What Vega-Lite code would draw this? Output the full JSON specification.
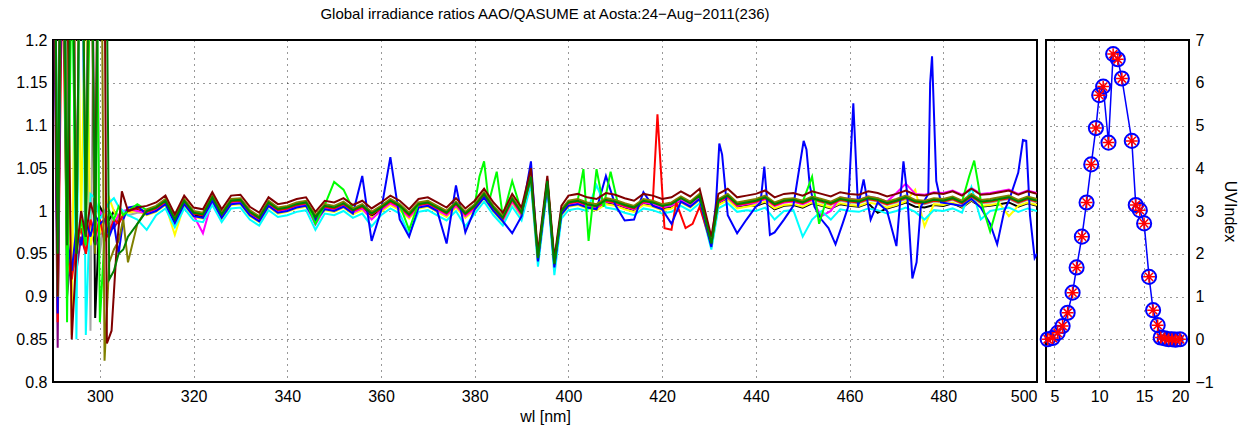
{
"$schema": "https://vega.github.io/schema/vega-lite/v6.json",
"padding": {"left": 14, "top": 6, "right": 5, "bottom": 5},
"bounds": "flush",
"spacing": 9,
"config": {
  "font": "Liberation Sans",
  "view": {"stroke": "#000", "strokeWidth": 2},
  "axis": {"grid": true, "gridColor": "#000", "gridDash": [1, 5], "gridOpacity": 0.8, "ticks": false, "domain": false, "labelFont": "Liberation Sans", "labelFontSize": 16, "labelColor": "#000", "titleFont": "Liberation Sans", "titleFontSize": 16, "titleFontWeight": "normal", "titleColor": "#000", "labelPadding": 6},
  "title": {"font": "Liberation Sans", "fontSize": 15, "fontWeight": "normal", "color": "#000"}
},
"datasets": {
"pu": [{"w":290,"r":1.4},{"w":291,"r":0.84},{"w":292,"r":1.5},{"w":293,"r":0.9},{"w":294,"r":0.96},{"w":295,"r":0.93},{"w":296,"r":0.97},{"w":297,"r":0.95},{"w":298,"r":0.98},{"w":299,"r":0.96},{"w":300,"r":0.975},{"w":301,"r":0.97},{"w":302,"r":0.985},{"w":303,"r":0.98},{"w":304,"r":0.99},{"w":305,"r":0.995},{"w":306,"r":1.0},{"w":308,"r":1.001},
{"w":310,"r":0.999},{"w":312,"r":1.003},{"w":314,"r":1.011},{"w":316,"r":0.989},{"w":318,"r":1.011},{"w":320,"r":0.997},{"w":322,"r":0.995},{"w":324,"r":1.015},{"w":326,"r":0.995},{"w":328,"r":1.011},{"w":330,"r":1.012},{"w":332,"r":0.998},{"w":334,"r":0.991},{"w":336,"r":1.009},{"w":338,"r":1.001},{"w":340,"r":1.003},{"w":342,"r":1.007},{"w":344,"r":1.009},{"w":346,"r":0.992},{"w":348,"r":1.005},{"w":350,"r":1.003},{"w":352,"r":1.008},{"w":354,"r":1.000},{"w":356,"r":1.005},{"w":358,"r":0.996},{"w":360,"r":1.003},{"w":362,"r":1.011},{"w":364,"r":1.005},{"w":366,"r":0.995},{"w":368,"r":1.007},{"w":370,"r":1.009},{"w":372,"r":1.003},{"w":374,"r":0.997},{"w":376,"r":1.008},{"w":378,"r":0.996},{"w":380,"r":1.005},{"w":382,"r":1.019},{"w":384,"r":1.003},{"w":386,"r":0.991},{"w":388,"r":1.013},{"w":390,"r":0.997},{"w":392,"r":1.039},{"w":393.5,"r":0.944},{"w":395.5,"r":1.034},{"w":397,"r":0.937},{"w":398.5,"r":0.999},{"w":400,"r":1.009},{"w":402,"r":1.011},{"w":404,"r":1.007},{"w":406,"r":1.005},{"w":408,"r":1.012},{"w":410,"r":1.010},{"w":412,"r":1.006},{"w":414,"r":1.003},{"w":416,"r":1.011},{"w":418,"r":1.009},{"w":420,"r":1.005},{"w":422,"r":1.007},{"w":424,"r":1.014},{"w":426,"r":1.008},{"w":428,"r":1.017},{"w":430.5,"r":0.961},{"w":432,"r":1.011},{"w":434,"r":1.017},{"w":436,"r":1.007},{"w":438,"r":1.009},{"w":440,"r":1.011},{"w":442,"r":1.015},{"w":444,"r":1.007},{"w":446,"r":1.011},{"w":448,"r":1.012},{"w":450,"r":1.009},{"w":452,"r":1.014},{"w":454,"r":1.011},{"w":456,"r":1.008},{"w":458,"r":1.013},{"w":460,"r":1.011},{"w":462,"r":1.010},{"w":464,"r":1.014},{"w":466,"r":1.012},{"w":468,"r":1.008},{"w":470,"r":1.011},{"w":472,"r":1.015},{"w":474,"r":1.010},{"w":476,"r":1.009},{"w":478,"r":1.012},{"w":480,"r":1.011},{"w":482,"r":1.014},{"w":484,"r":1.009},{"w":486,"r":1.017},{"w":488,"r":1.010},{"w":490,"r":1.011},{"w":492,"r":1.013},{"w":494,"r":1.015},{"w":496,"r":1.010},{"w":498,"r":1.014},{"w":500,"r":1.011}],
"gy": [{"w":290,"r":1.6},{"w":291,"r":0.96},{"w":292,"r":1.5},{"w":293,"r":0.95},{"w":294,"r":1.4},{"w":295,"r":0.96},{"w":296,"r":1.5},{"w":297,"r":1.4},{"w":298,"r":0.86},{"w":299,"r":1.5},{"w":300,"r":0.95},{"w":301,"r":0.995},{"w":302,"r":0.98},{"w":303,"r":1.0},{"w":304,"r":0.995},{"w":305,"r":1.0},{"w":306,"r":0.995},{"w":308,"r":0.998},
{"w":310,"r":0.998},{"w":312,"r":1.002},{"w":314,"r":1.010},{"w":316,"r":0.988},{"w":318,"r":1.010},{"w":320,"r":0.996},{"w":322,"r":0.994},{"w":324,"r":1.014},{"w":326,"r":0.994},{"w":328,"r":1.010},{"w":330,"r":1.011},{"w":332,"r":0.997},{"w":334,"r":0.990},{"w":336,"r":1.008},{"w":338,"r":1.000},{"w":340,"r":1.002},{"w":342,"r":1.006},{"w":344,"r":1.008},{"w":346,"r":0.991},{"w":348,"r":1.004},{"w":350,"r":1.002},{"w":352,"r":1.007},{"w":354,"r":0.999},{"w":356,"r":1.004},{"w":358,"r":0.995},{"w":360,"r":1.002},{"w":362,"r":1.010},{"w":364,"r":1.004},{"w":366,"r":0.994},{"w":368,"r":1.006},{"w":370,"r":1.008},{"w":372,"r":1.002},{"w":374,"r":0.996},{"w":376,"r":1.007},{"w":378,"r":0.995},{"w":380,"r":1.004},{"w":382,"r":1.018},{"w":384,"r":1.002},{"w":386,"r":0.990},{"w":388,"r":1.012},{"w":390,"r":0.996},{"w":392,"r":1.038},{"w":393.5,"r":0.943},{"w":395.5,"r":1.033},{"w":397,"r":0.936},{"w":398.5,"r":0.998},{"w":400,"r":1.008},{"w":402,"r":1.010},{"w":404,"r":1.006},{"w":406,"r":1.004},{"w":408,"r":1.011},{"w":410,"r":1.009},{"w":412,"r":1.005},{"w":414,"r":1.002},{"w":416,"r":1.010},{"w":418,"r":1.008},{"w":420,"r":1.004},{"w":422,"r":1.006},{"w":424,"r":1.013},{"w":426,"r":1.007},{"w":428,"r":1.016},{"w":430.5,"r":0.960},{"w":432,"r":1.010},{"w":434,"r":1.016},{"w":436,"r":1.006},{"w":438,"r":1.008},{"w":440,"r":1.010},{"w":442,"r":1.014},{"w":444,"r":1.006},{"w":446,"r":1.010},{"w":448,"r":1.011},{"w":450,"r":1.008},{"w":452,"r":1.013},{"w":454,"r":1.010},{"w":456,"r":1.007},{"w":458,"r":1.012},{"w":460,"r":1.010},{"w":462,"r":1.009},{"w":464,"r":1.013},{"w":466,"r":1.011},{"w":468,"r":1.007},{"w":470,"r":1.010},{"w":472,"r":1.014},{"w":474,"r":1.009},{"w":476,"r":1.008},{"w":478,"r":1.011},{"w":480,"r":1.010},{"w":482,"r":1.013},{"w":484,"r":1.008},{"w":486,"r":1.016},{"w":488,"r":1.009},{"w":490,"r":1.010},{"w":492,"r":1.012},{"w":494,"r":1.014},{"w":496,"r":1.009},{"w":498,"r":1.013},{"w":500,"r":1.010}],
"bk": [{"w":290,"r":1.5},{"w":291,"r":0.97},{"w":292,"r":1.6},{"w":293,"r":0.98},{"w":294,"r":1.5},{"w":295,"r":0.96},{"w":296,"r":1.4},{"w":297,"r":0.99},{"w":298,"r":1.5},{"w":299,"r":0.875},{"w":300,"r":1.005},{"w":301,"r":0.995},{"w":302,"r":0.99},{"w":303,"r":1.0},{"w":304,"r":0.99},{"w":305,"r":1.0},{"w":306,"r":1.0},{"w":308,"r":1.002},
{"w":310,"r":0.997},{"w":312,"r":1.001},{"w":314,"r":1.009},{"w":316,"r":0.987},{"w":318,"r":1.009},{"w":320,"r":0.995},{"w":322,"r":0.993},{"w":324,"r":1.013},{"w":326,"r":0.993},{"w":328,"r":1.009},{"w":330,"r":1.010},{"w":332,"r":0.996},{"w":334,"r":0.989},{"w":336,"r":1.007},{"w":338,"r":0.999},{"w":340,"r":1.001},{"w":342,"r":1.005},{"w":344,"r":1.007},{"w":346,"r":0.990},{"w":348,"r":1.003},{"w":350,"r":1.001},{"w":352,"r":1.006},{"w":354,"r":0.998},{"w":356,"r":1.003},{"w":358,"r":0.994},{"w":360,"r":1.001},{"w":362,"r":1.009},{"w":364,"r":1.003},{"w":366,"r":0.993},{"w":368,"r":1.005},{"w":370,"r":1.007},{"w":372,"r":1.001},{"w":374,"r":0.995},{"w":376,"r":1.006},{"w":378,"r":0.994},{"w":380,"r":1.003},{"w":382,"r":1.017},{"w":384,"r":1.001},{"w":386,"r":0.989},{"w":388,"r":1.011},{"w":390,"r":0.995},{"w":392,"r":1.037},{"w":393.5,"r":0.942},{"w":395.5,"r":1.032},{"w":397,"r":0.935},{"w":398.5,"r":0.997},{"w":400,"r":1.007},{"w":402,"r":1.009},{"w":404,"r":1.005},{"w":406,"r":1.003},{"w":408,"r":1.010},{"w":410,"r":1.008},{"w":412,"r":1.004},{"w":414,"r":1.001},{"w":416,"r":1.009},{"w":418,"r":1.007},{"w":420,"r":1.003},{"w":422,"r":1.005},{"w":424,"r":1.012},{"w":426,"r":1.006},{"w":428,"r":1.015},{"w":430.5,"r":0.959},{"w":432,"r":1.009},{"w":434,"r":1.015},{"w":436,"r":1.005},{"w":438,"r":1.007},{"w":440,"r":1.006},{"w":442,"r":1.010},{"w":444,"r":1.002},{"w":446,"r":1.006},{"w":448,"r":1.007},{"w":450,"r":1.004},{"w":452,"r":1.009},{"w":454,"r":1.006},{"w":456,"r":1.003},{"w":458,"r":1.008},{"w":460,"r":1.006},{"w":462,"r":1.005},{"w":464,"r":1.009},{"w":466,"r":0.998},{"w":468,"r":1.003},{"w":470,"r":1.006},{"w":472,"r":1.010},{"w":474,"r":1.005},{"w":476,"r":1.004},{"w":478,"r":1.007},{"w":480,"r":1.006},{"w":482,"r":1.009},{"w":484,"r":1.004},{"w":486,"r":1.012},{"w":488,"r":1.005},{"w":490,"r":1.006},{"w":492,"r":1.008},{"w":494,"r":1.010},{"w":496,"r":1.005},{"w":498,"r":1.009},{"w":500,"r":1.006}],
"ye": [{"w":290,"r":1.6},{"w":291,"r":0.95},{"w":292,"r":1.5},{"w":293,"r":1.3},{"w":294,"r":0.855},{"w":295,"r":1.4},{"w":296,"r":0.98},{"w":297,"r":1.3},{"w":298,"r":0.96},{"w":299,"r":0.99},{"w":300,"r":0.975},{"w":301,"r":0.995},{"w":302,"r":1.015},{"w":303,"r":1.0},{"w":304,"r":0.99},{"w":305,"r":1.0},{"w":306,"r":0.998},{"w":308,"r":1.0},
{"w":310,"r":0.995},{"w":312,"r":0.999},{"w":314,"r":1.007},{"w":316,"r":0.972},{"w":318,"r":1.007},{"w":320,"r":0.993},{"w":322,"r":0.991},{"w":324,"r":1.011},{"w":326,"r":0.991},{"w":328,"r":1.007},{"w":330,"r":1.008},{"w":332,"r":0.994},{"w":334,"r":0.987},{"w":336,"r":1.005},{"w":338,"r":0.997},{"w":340,"r":0.999},{"w":342,"r":1.003},{"w":344,"r":1.005},{"w":346,"r":0.988},{"w":348,"r":1.001},{"w":350,"r":0.999},{"w":352,"r":1.004},{"w":354,"r":0.996},{"w":356,"r":1.001},{"w":358,"r":0.992},{"w":360,"r":0.999},{"w":362,"r":1.007},{"w":364,"r":1.001},{"w":366,"r":0.991},{"w":368,"r":1.003},{"w":370,"r":1.005},{"w":372,"r":0.999},{"w":374,"r":0.993},{"w":376,"r":1.004},{"w":378,"r":0.992},{"w":380,"r":1.001},{"w":382,"r":1.015},{"w":384,"r":0.999},{"w":386,"r":0.987},{"w":388,"r":1.009},{"w":390,"r":0.993},{"w":392,"r":1.035},{"w":393.5,"r":0.940},{"w":395.5,"r":1.030},{"w":397,"r":0.933},{"w":398.5,"r":0.995},{"w":400,"r":1.005},{"w":402,"r":1.007},{"w":404,"r":1.003},{"w":406,"r":1.001},{"w":408,"r":1.008},{"w":410,"r":1.006},{"w":412,"r":1.002},{"w":414,"r":0.999},{"w":416,"r":1.007},{"w":418,"r":1.005},{"w":420,"r":1.001},{"w":422,"r":1.003},{"w":424,"r":1.010},{"w":426,"r":1.004},{"w":428,"r":1.013},{"w":430.5,"r":0.957},{"w":432,"r":1.007},{"w":434,"r":1.013},{"w":436,"r":1.003},{"w":438,"r":1.005},{"w":440,"r":1.007},{"w":442,"r":1.011},{"w":444,"r":1.003},{"w":446,"r":1.007},{"w":448,"r":1.008},{"w":450,"r":1.005},{"w":452,"r":1.010},{"w":454,"r":1.007},{"w":456,"r":1.004},{"w":458,"r":1.009},{"w":460,"r":1.007},{"w":462,"r":1.006},{"w":464,"r":1.010},{"w":466,"r":1.008},{"w":468,"r":1.004},{"w":470,"r":1.007},{"w":472,"r":1.011},{"w":474,"r":1.025},{"w":476,"r":0.982},{"w":478,"r":1.008},{"w":480,"r":1.007},{"w":482,"r":1.010},{"w":484,"r":1.005},{"w":486,"r":1.013},{"w":488,"r":1.006},{"w":490,"r":1.007},{"w":492,"r":1.009},{"w":494,"r":0.994},{"w":496,"r":1.006},{"w":498,"r":1.010},{"w":500,"r":1.007}],
"ma": [{"w":290,"r":1.5},{"w":291,"r":0.97},{"w":292,"r":1.4},{"w":293,"r":0.96},{"w":294,"r":1.5},{"w":295,"r":0.98},{"w":296,"r":1.4},{"w":297,"r":0.97},{"w":298,"r":1.5},{"w":299,"r":0.96},{"w":300,"r":1.0},{"w":301,"r":0.99},{"w":302,"r":0.98},{"w":303,"r":0.985},{"w":304,"r":0.995},{"w":305,"r":1.0},{"w":306,"r":1.002},{"w":308,"r":1.0},
{"w":310,"r":0.997},{"w":312,"r":1.001},{"w":314,"r":1.009},{"w":316,"r":0.987},{"w":318,"r":1.009},{"w":320,"r":0.995},{"w":322,"r":0.974},{"w":324,"r":1.013},{"w":326,"r":0.993},{"w":328,"r":1.009},{"w":330,"r":1.010},{"w":332,"r":0.996},{"w":334,"r":0.989},{"w":336,"r":1.007},{"w":338,"r":0.999},{"w":340,"r":1.001},{"w":342,"r":1.005},{"w":344,"r":1.007},{"w":346,"r":0.984},{"w":348,"r":1.003},{"w":350,"r":1.001},{"w":352,"r":1.006},{"w":354,"r":0.998},{"w":356,"r":1.003},{"w":358,"r":0.990},{"w":360,"r":1.001},{"w":362,"r":1.009},{"w":364,"r":1.003},{"w":366,"r":0.993},{"w":368,"r":1.005},{"w":370,"r":1.007},{"w":372,"r":1.001},{"w":374,"r":0.995},{"w":376,"r":1.006},{"w":378,"r":0.994},{"w":380,"r":1.003},{"w":382,"r":1.017},{"w":384,"r":1.001},{"w":386,"r":0.989},{"w":388,"r":1.011},{"w":390,"r":0.995},{"w":392,"r":1.037},{"w":393.5,"r":0.942},{"w":395.5,"r":1.032},{"w":397,"r":0.935},{"w":398.5,"r":0.997},{"w":400,"r":1.008},{"w":402,"r":1.010},{"w":404,"r":1.006},{"w":406,"r":1.004},{"w":408,"r":1.011},{"w":410,"r":1.009},{"w":412,"r":1.005},{"w":414,"r":1.002},{"w":416,"r":1.010},{"w":418,"r":1.008},{"w":420,"r":1.004},{"w":422,"r":1.006},{"w":424,"r":1.013},{"w":426,"r":1.007},{"w":428,"r":1.016},{"w":430.5,"r":0.960},{"w":432,"r":1.010},{"w":434,"r":1.016},{"w":436,"r":1.006},{"w":438,"r":1.008},{"w":440,"r":1.010},{"w":442,"r":1.014},{"w":444,"r":1.006},{"w":446,"r":1.010},{"w":448,"r":1.011},{"w":450,"r":1.008},{"w":452,"r":1.013},{"w":454,"r":0.994},{"w":456,"r":1.000},{"w":458,"r":1.016},{"w":460,"r":1.014},{"w":462,"r":1.013},{"w":464,"r":1.017},{"w":466,"r":1.015},{"w":468,"r":1.011},{"w":470,"r":1.021},{"w":472,"r":1.032},{"w":474,"r":1.020},{"w":476,"r":1.019},{"w":478,"r":1.022},{"w":480,"r":1.021},{"w":482,"r":1.024},{"w":484,"r":1.019},{"w":486,"r":1.027},{"w":488,"r":1.020},{"w":490,"r":1.021},{"w":492,"r":1.023},{"w":494,"r":1.025},{"w":496,"r":1.020},{"w":498,"r":1.024},{"w":500,"r":1.021}],
"cy": [{"w":290,"r":1.6},{"w":291,"r":0.98},{"w":292,"r":1.5},{"w":293,"r":1.0},{"w":294,"r":1.4},{"w":295,"r":0.85},{"w":296,"r":1.5},{"w":297,"r":0.855},{"w":298,"r":1.02},{"w":299,"r":1.015},{"w":300,"r":0.99},{"w":301,"r":1.0},{"w":302,"r":1.01},{"w":303,"r":1.015},{"w":304,"r":1.005},{"w":305,"r":1.0},{"w":306,"r":0.995},{"w":308,"r":0.99},
{"w":310,"r":0.978},{"w":312,"r":0.995},{"w":314,"r":1.003},{"w":316,"r":0.981},{"w":318,"r":1.003},{"w":320,"r":0.989},{"w":322,"r":0.987},{"w":324,"r":1.007},{"w":326,"r":0.987},{"w":328,"r":1.003},{"w":330,"r":1.004},{"w":332,"r":0.990},{"w":334,"r":0.983},{"w":336,"r":1.001},{"w":338,"r":0.993},{"w":340,"r":0.995},{"w":342,"r":0.999},{"w":344,"r":1.001},{"w":346,"r":0.978},{"w":348,"r":0.997},{"w":350,"r":0.995},{"w":352,"r":1.000},{"w":354,"r":0.992},{"w":356,"r":0.997},{"w":358,"r":0.982},{"w":360,"r":0.995},{"w":362,"r":1.003},{"w":364,"r":0.997},{"w":366,"r":0.972},{"w":368,"r":0.999},{"w":370,"r":1.001},{"w":372,"r":0.995},{"w":374,"r":0.989},{"w":376,"r":1.000},{"w":378,"r":0.982},{"w":380,"r":0.997},{"w":382,"r":1.011},{"w":384,"r":0.995},{"w":386,"r":0.983},{"w":388,"r":1.005},{"w":390,"r":0.989},{"w":392,"r":1.031},{"w":393.5,"r":0.935},{"w":395.5,"r":1.026},{"w":397,"r":0.925},{"w":398.5,"r":0.991},{"w":400,"r":1.001},{"w":402,"r":1.003},{"w":404,"r":1.000},{"w":406,"r":1.030},{"w":408,"r":1.004},{"w":410,"r":1.002},{"w":412,"r":0.998},{"w":414,"r":0.995},{"w":416,"r":1.003},{"w":418,"r":1.001},{"w":420,"r":0.997},{"w":422,"r":0.999},{"w":424,"r":1.006},{"w":426,"r":1.000},{"w":428,"r":1.009},{"w":430.5,"r":0.955},{"w":432,"r":1.003},{"w":434,"r":1.009},{"w":436,"r":0.999},{"w":438,"r":1.001},{"w":440,"r":1.000},{"w":442,"r":1.004},{"w":444,"r":0.990},{"w":446,"r":1.000},{"w":448,"r":1.001},{"w":450,"r":0.970},{"w":452,"r":0.990},{"w":454,"r":1.000},{"w":456,"r":0.990},{"w":458,"r":1.002},{"w":460,"r":1.000},{"w":462,"r":0.999},{"w":464,"r":1.003},{"w":466,"r":1.001},{"w":468,"r":0.997},{"w":470,"r":1.000},{"w":472,"r":1.004},{"w":474,"r":0.999},{"w":476,"r":0.990},{"w":478,"r":1.001},{"w":480,"r":1.000},{"w":482,"r":1.003},{"w":484,"r":0.998},{"w":486,"r":1.028},{"w":488,"r":0.990},{"w":490,"r":1.000},{"w":492,"r":1.002},{"w":494,"r":1.004},{"w":496,"r":0.999},{"w":498,"r":1.003},{"w":500,"r":1.000}],
"rd": [{"w":290,"r":1.6},{"w":291,"r":0.87},{"w":292,"r":1.3},{"w":293,"r":0.95},{"w":294,"r":0.92},{"w":295,"r":0.96},{"w":296,"r":0.98},{"w":297,"r":0.95},{"w":298,"r":0.99},{"w":299,"r":0.97},{"w":300,"r":0.99},{"w":301,"r":0.965},{"w":302,"r":0.975},{"w":303,"r":0.99},{"w":304,"r":0.985},{"w":305,"r":0.995},{"w":306,"r":1.0},{"w":308,"r":1.003},
{"w":310,"r":0.999},{"w":312,"r":1.003},{"w":314,"r":1.011},{"w":316,"r":0.989},{"w":318,"r":1.011},{"w":320,"r":0.997},{"w":322,"r":0.995},{"w":324,"r":1.015},{"w":326,"r":0.995},{"w":328,"r":1.011},{"w":330,"r":1.012},{"w":332,"r":0.998},{"w":334,"r":0.991},{"w":336,"r":1.009},{"w":338,"r":1.001},{"w":340,"r":1.003},{"w":342,"r":1.007},{"w":344,"r":1.009},{"w":346,"r":0.992},{"w":348,"r":1.005},{"w":350,"r":1.003},{"w":352,"r":1.008},{"w":354,"r":1.000},{"w":356,"r":1.005},{"w":358,"r":0.996},{"w":360,"r":1.003},{"w":362,"r":1.011},{"w":364,"r":1.005},{"w":366,"r":0.995},{"w":368,"r":1.007},{"w":370,"r":1.009},{"w":372,"r":1.003},{"w":374,"r":0.997},{"w":376,"r":1.008},{"w":378,"r":0.996},{"w":380,"r":1.005},{"w":382,"r":1.019},{"w":384,"r":1.003},{"w":386,"r":0.991},{"w":388,"r":1.013},{"w":390,"r":0.997},{"w":392,"r":1.039},{"w":393.5,"r":0.944},{"w":395.5,"r":1.034},{"w":397,"r":0.937},{"w":398.5,"r":0.999},{"w":400,"r":1.009},{"w":402,"r":1.011},{"w":404,"r":1.007},{"w":406,"r":1.005},{"w":408,"r":1.012},{"w":410,"r":1.010},{"w":412,"r":1.006},{"w":414,"r":1.003},{"w":416,"r":1.011},{"w":418,"r":1.010},{"w":419,"r":1.113},{"w":420.5,"r":0.980},{"w":422,"r":0.978},{"w":423,"r":1.010},{"w":425,"r":0.980},{"w":426.5,"r":0.985},{"w":428,"r":1.005},{"w":430.5,"r":0.961},{"w":432,"r":1.011},{"w":434,"r":1.017},{"w":436,"r":1.007},{"w":438,"r":1.009},{"w":440,"r":1.011},{"w":442,"r":1.015},{"w":444,"r":1.007},{"w":446,"r":1.011},{"w":448,"r":1.012},{"w":450,"r":1.009},{"w":452,"r":1.014},{"w":454,"r":1.011},{"w":456,"r":1.008},{"w":458,"r":1.013},{"w":460,"r":1.011},{"w":462,"r":1.010},{"w":464,"r":1.014},{"w":466,"r":1.012},{"w":468,"r":1.008},{"w":470,"r":1.011},{"w":472,"r":1.015},{"w":474,"r":1.010},{"w":476,"r":1.009},{"w":478,"r":1.012},{"w":480,"r":1.011},{"w":482,"r":1.014},{"w":484,"r":1.009},{"w":486,"r":1.017},{"w":488,"r":1.010},{"w":490,"r":1.011},{"w":492,"r":1.013},{"w":494,"r":1.015},{"w":496,"r":1.010},{"w":498,"r":1.014},{"w":500,"r":1.011}],
"bl": [{"w":290,"r":1.5},{"w":291,"r":0.88},{"w":292,"r":1.4},{"w":293,"r":0.97},{"w":294,"r":0.93},{"w":295,"r":0.98},{"w":296,"r":0.96},{"w":297,"r":0.99},{"w":298,"r":0.97},{"w":299,"r":0.995},{"w":300,"r":0.985},{"w":301,"r":0.99},{"w":302,"r":0.97},{"w":303,"r":0.985},{"w":304,"r":0.95},{"w":305,"r":0.99},{"w":306,"r":1.004},{"w":308,"r":1.006},
{"w":310,"r":0.996},{"w":312,"r":1.000},{"w":314,"r":1.008},{"w":316,"r":0.986},{"w":318,"r":1.008},{"w":320,"r":0.994},{"w":322,"r":0.992},{"w":324,"r":1.012},{"w":326,"r":0.992},{"w":328,"r":1.008},{"w":330,"r":1.009},{"w":332,"r":0.995},{"w":334,"r":0.988},{"w":336,"r":1.006},{"w":338,"r":0.998},{"w":340,"r":1.000},{"w":342,"r":1.004},{"w":344,"r":1.006},{"w":346,"r":0.989},{"w":348,"r":1.002},{"w":350,"r":1.000},{"w":352,"r":1.005},{"w":354,"r":0.997},{"w":356,"r":1.041},{"w":358,"r":0.965},{"w":360,"r":1.000},{"w":362,"r":1.063},{"w":364,"r":0.990},{"w":366,"r":0.970},{"w":368,"r":1.004},{"w":370,"r":1.006},{"w":372,"r":1.000},{"w":374,"r":0.962},{"w":376,"r":1.030},{"w":378,"r":0.975},{"w":380,"r":1.002},{"w":382,"r":1.016},{"w":384,"r":1.000},{"w":386,"r":0.988},{"w":388,"r":0.974},{"w":390,"r":0.994},{"w":392,"r":1.058},{"w":393.5,"r":0.941},{"w":395.5,"r":1.031},{"w":397,"r":0.934},{"w":398.5,"r":0.996},{"w":400,"r":1.006},{"w":402,"r":1.008},{"w":404,"r":1.004},{"w":406,"r":1.002},{"w":408,"r":1.041},{"w":410,"r":1.007},{"w":412,"r":0.989},{"w":414,"r":0.990},{"w":416,"r":1.022},{"w":418,"r":1.006},{"w":420,"r":1.002},{"w":422,"r":0.985},{"w":424,"r":1.011},{"w":426,"r":1.005},{"w":428,"r":1.014},{"w":430.5,"r":0.958},{"w":431.5,"r":1.010},{"w":432.2,"r":1.079},{"w":432.8,"r":1.066},{"w":434,"r":0.995},{"w":436,"r":0.974},{"w":438,"r":0.990},{"w":440,"r":1.005},{"w":441,"r":1.010},{"w":441.8,"r":1.052},{"w":443,"r":0.972},{"w":444,"r":0.975},{"w":446,"r":0.990},{"w":448,"r":1.006},{"w":449.5,"r":1.058},{"w":450.2,"r":1.082},{"w":450.8,"r":1.072},{"w":451.5,"r":1.030},{"w":452.5,"r":1.005},{"w":454,"r":0.990},{"w":455.5,"r":0.980},{"w":457,"r":0.961},{"w":458.5,"r":0.985},{"w":459.7,"r":1.005},{"w":460.8,"r":1.126},{"w":461.8,"r":1.005},{"w":463,"r":1.037},{"w":464.5,"r":0.990},{"w":466,"r":1.010},{"w":468,"r":1.000},{"w":470,"r":0.959},{"w":471.5,"r":1.058},{"w":472.3,"r":1.020},{"w":473.4,"r":0.921},{"w":474.3,"r":0.940},{"w":475.2,"r":1.005},{"w":476.8,"r":1.020},{"w":477.2,"r":1.150},{"w":477.6,"r":1.181},{"w":478.5,"r":1.035},{"w":479.5,"r":1.010},{"w":482,"r":1.008},{"w":484,"r":1.006},{"w":486,"r":1.014},{"w":488,"r":1.004},{"w":490,"r":0.985},{"w":491.5,"r":0.961},{"w":493,"r":1.000},{"w":494,"r":1.012},{"w":496,"r":1.045},{"w":497,"r":1.083},{"w":497.7,"r":1.082},{"w":498.5,"r":0.995},{"w":499.5,"r":0.945},{"w":500,"r":0.950}],
"gn": [{"w":290,"r":1.7},{"w":291,"r":0.9},{"w":292,"r":1.5},{"w":293,"r":0.87},{"w":294,"r":1.3},{"w":295,"r":0.95},{"w":296,"r":0.99},{"w":297,"r":0.96},{"w":298,"r":1.3},{"w":299,"r":1.5},{"w":300,"r":0.87},{"w":301,"r":0.97},{"w":302,"r":1.0},{"w":303,"r":0.99},{"w":304,"r":1.005},{"w":305,"r":0.995},{"w":306,"r":1.0},{"w":308,"r":1.008},
{"w":310,"r":1.001},{"w":312,"r":1.005},{"w":314,"r":1.013},{"w":316,"r":0.991},{"w":318,"r":1.013},{"w":320,"r":0.999},{"w":322,"r":0.997},{"w":324,"r":1.017},{"w":326,"r":0.997},{"w":328,"r":1.013},{"w":330,"r":1.014},{"w":332,"r":1.000},{"w":334,"r":0.993},{"w":336,"r":1.011},{"w":338,"r":1.003},{"w":340,"r":1.005},{"w":342,"r":1.009},{"w":344,"r":1.011},{"w":346,"r":0.985},{"w":348,"r":1.007},{"w":350,"r":1.034},{"w":352,"r":1.025},{"w":354,"r":1.002},{"w":356,"r":1.007},{"w":358,"r":0.998},{"w":360,"r":1.005},{"w":362,"r":1.013},{"w":364,"r":1.007},{"w":366,"r":0.978},{"w":368,"r":1.009},{"w":370,"r":1.011},{"w":372,"r":1.005},{"w":374,"r":0.999},{"w":376,"r":1.010},{"w":378,"r":0.998},{"w":380,"r":1.007},{"w":381,"r":1.040},{"w":382,"r":1.058},{"w":383,"r":1.010},{"w":384.7,"r":1.046},{"w":386,"r":0.993},{"w":388,"r":1.035},{"w":390,"r":0.999},{"w":392,"r":1.041},{"w":393.5,"r":0.946},{"w":395.5,"r":1.036},{"w":397,"r":0.939},{"w":398.5,"r":1.001},{"w":400,"r":1.011},{"w":402,"r":1.013},{"w":403.2,"r":1.049},{"w":404.3,"r":0.965},{"w":406,"r":1.049},{"w":407.5,"r":1.005},{"w":409,"r":1.046},{"w":410.5,"r":1.010},{"w":412,"r":1.008},{"w":414,"r":1.005},{"w":416,"r":1.013},{"w":418,"r":1.011},{"w":420,"r":1.007},{"w":422,"r":1.009},{"w":424,"r":1.016},{"w":426,"r":1.010},{"w":428,"r":1.019},{"w":430.5,"r":0.963},{"w":432,"r":1.013},{"w":434,"r":1.019},{"w":436,"r":1.009},{"w":438,"r":1.011},{"w":440,"r":1.013},{"w":442,"r":1.017},{"w":444,"r":1.009},{"w":446,"r":1.013},{"w":448,"r":1.014},{"w":450,"r":1.011},{"w":452,"r":1.040},{"w":453.5,"r":0.985},{"w":455,"r":1.012},{"w":456,"r":1.010},{"w":458,"r":1.015},{"w":460,"r":1.013},{"w":462,"r":1.012},{"w":464,"r":1.016},{"w":466,"r":1.014},{"w":468,"r":1.010},{"w":470,"r":1.013},{"w":472,"r":1.017},{"w":474,"r":1.012},{"w":476,"r":1.011},{"w":478,"r":1.014},{"w":480,"r":1.013},{"w":482,"r":1.016},{"w":484,"r":1.011},{"w":485.5,"r":1.040},{"w":486.6,"r":1.059},{"w":487.5,"r":1.030},{"w":488,"r":1.012},{"w":490,"r":0.976},{"w":492,"r":1.015},{"w":494,"r":1.017},{"w":496,"r":1.012},{"w":498,"r":1.016},{"w":500,"r":1.013}],
"ol": [{"w":290,"r":1.5},{"w":291,"r":0.93},{"w":292,"r":1.6},{"w":293,"r":0.96},{"w":294,"r":1.5},{"w":295,"r":0.95},{"w":296,"r":1.5},{"w":297,"r":0.97},{"w":298,"r":1.4},{"w":299,"r":0.95},{"w":300,"r":1.6},{"w":301,"r":0.825},{"w":302,"r":0.94},{"w":303,"r":0.955},{"w":304,"r":0.965},{"w":305,"r":0.99},{"w":306,"r":0.94},{"w":308,"r":0.985},
{"w":310,"r":1.002},{"w":312,"r":1.006},{"w":314,"r":1.014},{"w":316,"r":0.992},{"w":318,"r":1.014},{"w":320,"r":1.000},{"w":322,"r":0.998},{"w":324,"r":1.018},{"w":326,"r":0.998},{"w":328,"r":1.014},{"w":330,"r":1.015},{"w":332,"r":1.001},{"w":334,"r":0.994},{"w":336,"r":1.012},{"w":338,"r":1.004},{"w":340,"r":1.006},{"w":342,"r":1.010},{"w":344,"r":1.012},{"w":346,"r":0.995},{"w":348,"r":1.008},{"w":350,"r":1.006},{"w":352,"r":1.011},{"w":354,"r":1.003},{"w":356,"r":1.008},{"w":358,"r":0.999},{"w":360,"r":1.006},{"w":362,"r":1.014},{"w":364,"r":1.008},{"w":366,"r":0.998},{"w":368,"r":1.010},{"w":370,"r":1.012},{"w":372,"r":1.006},{"w":374,"r":1.000},{"w":376,"r":1.011},{"w":378,"r":0.999},{"w":380,"r":1.008},{"w":382,"r":1.022},{"w":384,"r":1.006},{"w":386,"r":0.994},{"w":388,"r":1.016},{"w":390,"r":1.000},{"w":392,"r":1.042},{"w":393.5,"r":0.947},{"w":395.5,"r":1.037},{"w":397,"r":0.940},{"w":398.5,"r":1.002},{"w":400,"r":1.012},{"w":402,"r":1.014},{"w":404,"r":1.010},{"w":406,"r":1.008},{"w":408,"r":1.015},{"w":410,"r":1.013},{"w":412,"r":1.009},{"w":414,"r":1.006},{"w":416,"r":1.014},{"w":418,"r":1.012},{"w":420,"r":1.008},{"w":422,"r":1.010},{"w":424,"r":1.017},{"w":426,"r":1.011},{"w":428,"r":1.020},{"w":430.5,"r":0.964},{"w":432,"r":1.014},{"w":434,"r":1.020},{"w":436,"r":1.010},{"w":438,"r":1.012},{"w":440,"r":1.014},{"w":442,"r":1.018},{"w":444,"r":1.010},{"w":446,"r":1.014},{"w":448,"r":1.015},{"w":450,"r":1.012},{"w":452,"r":1.017},{"w":454,"r":1.014},{"w":456,"r":1.011},{"w":458,"r":1.016},{"w":460,"r":1.014},{"w":462,"r":1.013},{"w":464,"r":1.017},{"w":466,"r":1.015},{"w":468,"r":1.011},{"w":470,"r":1.014},{"w":472,"r":1.018},{"w":474,"r":1.013},{"w":476,"r":1.012},{"w":478,"r":1.015},{"w":480,"r":1.014},{"w":482,"r":1.017},{"w":484,"r":1.012},{"w":486,"r":1.020},{"w":488,"r":1.013},{"w":490,"r":1.014},{"w":492,"r":1.016},{"w":494,"r":1.018},{"w":496,"r":1.013},{"w":498,"r":1.017},{"w":500,"r":1.014}],
"dr": [{"w":290,"r":1.5},{"w":291,"r":0.9},{"w":292,"r":1.6},{"w":293,"r":1.3},{"w":294,"r":0.85},{"w":295,"r":0.95},{"w":296,"r":1.0},{"w":297,"r":0.97},{"w":298,"r":1.01},{"w":299,"r":0.99},{"w":300,"r":1.6},{"w":301,"r":1.3},{"w":301.5,"r":0.845},{"w":302.5,"r":0.86},{"w":303.5,"r":0.95},{"w":304.7,"r":1.023},{"w":306,"r":1.0},{"w":308,"r":1.004},
{"w":310,"r":1.006},{"w":312,"r":1.010},{"w":314,"r":1.018},{"w":316,"r":0.996},{"w":318,"r":1.018},{"w":320,"r":1.004},{"w":322,"r":1.002},{"w":324,"r":1.022},{"w":326,"r":1.002},{"w":328,"r":1.018},{"w":330,"r":1.019},{"w":332,"r":1.005},{"w":334,"r":0.998},{"w":336,"r":1.016},{"w":338,"r":1.008},{"w":340,"r":1.010},{"w":342,"r":1.014},{"w":344,"r":1.016},{"w":346,"r":0.999},{"w":348,"r":1.012},{"w":350,"r":1.010},{"w":352,"r":1.015},{"w":354,"r":1.007},{"w":356,"r":1.012},{"w":358,"r":1.003},{"w":360,"r":1.010},{"w":362,"r":1.018},{"w":364,"r":1.012},{"w":366,"r":1.002},{"w":368,"r":1.014},{"w":370,"r":1.016},{"w":372,"r":1.010},{"w":374,"r":1.004},{"w":376,"r":1.015},{"w":378,"r":1.003},{"w":380,"r":1.012},{"w":382,"r":1.026},{"w":384,"r":1.010},{"w":386,"r":0.998},{"w":388,"r":1.020},{"w":390,"r":1.004},{"w":392,"r":1.050},{"w":393.5,"r":0.951},{"w":395.5,"r":1.041},{"w":397,"r":0.944},{"w":398.5,"r":1.006},{"w":400,"r":1.018},{"w":402,"r":1.020},{"w":404,"r":1.016},{"w":406,"r":1.014},{"w":408,"r":1.021},{"w":410,"r":1.019},{"w":412,"r":1.015},{"w":414,"r":1.012},{"w":416,"r":1.020},{"w":418,"r":1.018},{"w":420,"r":1.014},{"w":422,"r":1.016},{"w":424,"r":1.023},{"w":426,"r":1.017},{"w":428,"r":1.026},{"w":430.5,"r":0.970},{"w":432,"r":1.020},{"w":434,"r":1.026},{"w":436,"r":1.016},{"w":438,"r":1.018},{"w":440,"r":1.020},{"w":442,"r":1.024},{"w":444,"r":1.016},{"w":446,"r":1.020},{"w":448,"r":1.021},{"w":450,"r":1.018},{"w":452,"r":1.023},{"w":454,"r":1.020},{"w":456,"r":1.017},{"w":458,"r":1.022},{"w":460,"r":1.020},{"w":462,"r":1.019},{"w":464,"r":1.023},{"w":466,"r":1.021},{"w":468,"r":1.017},{"w":470,"r":1.020},{"w":472,"r":1.024},{"w":474,"r":1.019},{"w":476,"r":1.018},{"w":478,"r":1.021},{"w":480,"r":1.020},{"w":482,"r":1.023},{"w":484,"r":1.018},{"w":486,"r":1.026},{"w":488,"r":1.019},{"w":490,"r":1.020},{"w":492,"r":1.022},{"w":494,"r":1.024},{"w":496,"r":1.019},{"w":498,"r":1.023},{"w":500,"r":1.020}],
"dg": [{"w":290,"r":1.6},{"w":291,"r":0.95},{"w":292,"r":1.5},{"w":293,"r":0.96},{"w":294,"r":1.4},{"w":295,"r":0.95},{"w":296,"r":1.5},{"w":297,"r":0.97},{"w":298,"r":1.5},{"w":299,"r":0.96},{"w":300,"r":1.5},{"w":301,"r":1.6},{"w":302,"r":0.92},{"w":303,"r":0.93},{"w":304,"r":0.95},{"w":305,"r":0.955},{"w":306,"r":0.97},{"w":308,"r":0.985},
{"w":310,"r":1.000},{"w":312,"r":1.004},{"w":314,"r":1.012},{"w":316,"r":0.990},{"w":318,"r":1.012},{"w":320,"r":0.998},{"w":322,"r":0.996},{"w":324,"r":1.016},{"w":326,"r":0.996},{"w":328,"r":1.012},{"w":330,"r":1.013},{"w":332,"r":0.999},{"w":334,"r":0.992},{"w":336,"r":1.010},{"w":338,"r":1.002},{"w":340,"r":1.004},{"w":342,"r":1.008},{"w":344,"r":1.010},{"w":346,"r":0.993},{"w":348,"r":1.006},{"w":350,"r":1.004},{"w":352,"r":1.009},{"w":354,"r":1.001},{"w":356,"r":1.006},{"w":358,"r":0.997},{"w":360,"r":1.004},{"w":362,"r":1.012},{"w":364,"r":1.006},{"w":366,"r":0.996},{"w":368,"r":1.008},{"w":370,"r":1.010},{"w":372,"r":1.004},{"w":374,"r":0.998},{"w":376,"r":1.009},{"w":378,"r":0.997},{"w":380,"r":1.006},{"w":382,"r":1.020},{"w":384,"r":1.004},{"w":386,"r":0.992},{"w":388,"r":1.014},{"w":390,"r":0.998},{"w":392,"r":1.040},{"w":393.5,"r":0.945},{"w":395.5,"r":1.035},{"w":397,"r":0.938},{"w":398.5,"r":1.000},{"w":400,"r":1.010},{"w":402,"r":1.012},{"w":404,"r":1.008},{"w":406,"r":1.006},{"w":408,"r":1.013},{"w":410,"r":1.011},{"w":412,"r":1.007},{"w":414,"r":1.004},{"w":416,"r":1.012},{"w":418,"r":1.010},{"w":420,"r":1.006},{"w":422,"r":1.008},{"w":424,"r":1.015},{"w":426,"r":1.009},{"w":428,"r":1.018},{"w":430.5,"r":0.962},{"w":432,"r":1.012},{"w":434,"r":1.018},{"w":436,"r":1.008},{"w":438,"r":1.010},{"w":440,"r":1.012},{"w":442,"r":1.016},{"w":444,"r":1.008},{"w":446,"r":1.012},{"w":448,"r":1.013},{"w":450,"r":1.010},{"w":452,"r":1.015},{"w":454,"r":1.012},{"w":456,"r":1.009},{"w":458,"r":1.014},{"w":460,"r":1.012},{"w":462,"r":1.011},{"w":464,"r":1.015},{"w":466,"r":1.013},{"w":468,"r":1.009},{"w":470,"r":1.012},{"w":472,"r":1.016},{"w":474,"r":1.011},{"w":476,"r":1.010},{"w":478,"r":1.013},{"w":480,"r":1.012},{"w":482,"r":1.015},{"w":484,"r":1.010},{"w":486,"r":1.018},{"w":488,"r":1.011},{"w":490,"r":1.012},{"w":492,"r":1.014},{"w":494,"r":1.016},{"w":496,"r":1.011},{"w":498,"r":1.015},{"w":500,"r":1.012}],
"uv": [{"h":4.26,"u":0.0},{"h":4.81,"u":0.03},{"h":5.37,"u":0.15},{"h":5.92,"u":0.31},{"h":6.48,"u":0.62},{"h":7.03,"u":1.09},{"h":7.48,"u":1.68},{"h":8.07,"u":2.40},{"h":8.59,"u":3.20},{"h":9.11,"u":4.09},{"h":9.63,"u":4.94},{"h":10.0,"u":5.71},{"h":10.44,"u":5.91},{"h":11.03,"u":4.60},{"h":11.55,"u":6.67},{"h":12.07,"u":6.55},{"h":12.52,"u":6.10},{"h":13.63,"u":4.64},{"h":14.07,"u":3.14},{"h":14.52,"u":3.02},{"h":15.0,"u":2.71},{"h":15.55,"u":1.46},{"h":16.0,"u":0.68},{"h":16.51,"u":0.33},{"h":16.85,"u":0.04},{"h":17.3,"u":0.02},{"h":17.74,"u":0.0},{"h":18.1,"u":0.0},{"h":18.5,"u":-0.01},{"h":19.0,"u":0.0}]
},
"hconcat": [
{
  "width": 984, "height": 342,
  "title": {"text": "Global irradiance ratios AAO/QASUME at Aosta:24−Aug−2011(236)", "offset": 10},
  "encoding": {
    "x": {"field": "w", "type": "quantitative", "scale": {"domain": [290, 500], "nice": false, "zero": false}, "axis": {"values": [300, 320, 340, 360, 380, 400, 420, 440, 460, 480, 500], "title": "wl [nm]", "titlePadding": 4}},
    "y": {"field": "r", "type": "quantitative", "scale": {"domain": [0.8, 1.2], "nice": false, "zero": false}, "axis": {"values": [0.8, 0.85, 0.9, 0.95, 1, 1.05, 1.1, 1.15, 1.2], "format": "~g", "title": null}}
  },
  "layer": [
    {"data": {"name": "pu"}, "mark": {"type": "line", "color": "#7f007f", "strokeWidth": 2, "clip": true}, "encoding": {}},
    {"data": {"name": "gy"}, "mark": {"type": "line", "color": "#a6a6a6", "strokeWidth": 2, "clip": true}, "encoding": {}},
    {"data": {"name": "bk"}, "mark": {"type": "line", "color": "#000000", "strokeWidth": 2, "clip": true}, "encoding": {}},
    {"data": {"name": "ye"}, "mark": {"type": "line", "color": "#ffff00", "strokeWidth": 2, "clip": true}, "encoding": {}},
    {"data": {"name": "ma"}, "mark": {"type": "line", "color": "#ff00ff", "strokeWidth": 2, "clip": true}, "encoding": {}},
    {"data": {"name": "cy"}, "mark": {"type": "line", "color": "#00ffff", "strokeWidth": 2, "clip": true}, "encoding": {}},
    {"data": {"name": "rd"}, "mark": {"type": "line", "color": "#ff0000", "strokeWidth": 2, "clip": true}, "encoding": {}},
    {"data": {"name": "bl"}, "mark": {"type": "line", "color": "#0000ff", "strokeWidth": 2, "clip": true}, "encoding": {}},
    {"data": {"name": "gn"}, "mark": {"type": "line", "color": "#00ff00", "strokeWidth": 2, "clip": true}, "encoding": {}},
    {"data": {"name": "ol"}, "mark": {"type": "line", "color": "#808000", "strokeWidth": 2, "clip": true}, "encoding": {}},
    {"data": {"name": "dr"}, "mark": {"type": "line", "color": "#800000", "strokeWidth": 2, "clip": true}, "encoding": {}},
    {"data": {"name": "dg"}, "mark": {"type": "line", "color": "#008000", "strokeWidth": 2, "clip": true}, "encoding": {}}
  ]
},
{
  "width": 143, "height": 342,
  "data": {"name": "uv"},
  "encoding": {
    "x": {"field": "h", "type": "quantitative", "scale": {"domain": [4.07, 20], "nice": false, "zero": false}, "axis": {"values": [5, 10, 15, 20], "title": null}},
    "y": {"field": "u", "type": "quantitative", "scale": {"domain": [-1, 7], "nice": false, "zero": false}, "axis": {"orient": "right", "values": [-1, 0, 1, 2, 3, 4, 5, 6, 7], "title": "UVIndex", "titlePadding": 8}}
  },
  "layer": [
    {"mark": {"type": "line", "color": "#0000ff", "strokeWidth": 1.5}, "encoding": {}},
    {"mark": {"type": "point", "shape": "circle", "filled": false, "color": "#0000ff", "size": 200, "strokeWidth": 2, "opacity": 1}, "encoding": {}},
    {"mark": {"type": "point", "shape": "M-1,0L1,0M0,-1L0,1M-0.7,-0.7L0.7,0.7M-0.7,0.7L0.7,-0.7", "filled": false, "color": "#ff0000", "size": 140, "strokeWidth": 1.5, "opacity": 1}, "encoding": {}}
  ]
}
]
}
